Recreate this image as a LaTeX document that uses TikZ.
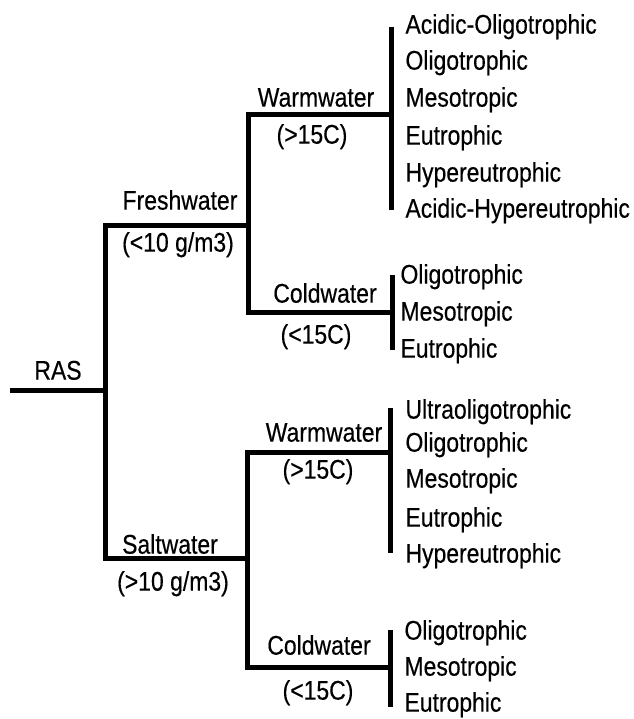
\documentclass[tikz,border=0pt]{standalone}
\usepackage{tikz}
\usepackage{fontspec}
\setmainfont{Liberation Sans}[FakeStretch=0.85,FakeBold=0.4]

\begin{document}
\begin{tikzpicture}[x=1pt,y=-1pt,line width=5pt,
  lbl/.style={font=\fontsize{27}{27}\selectfont,inner sep=0pt,text height=19.3pt,text depth=0pt},
  leaf/.style={lbl,anchor=west}]
\useasboundingbox (0,0) rectangle (633,719);
\coordinate (root) at (10,390);
\coordinate (rootj) at (105,390);
\coordinate (freshj) at (248,225);
\coordinate (saltj) at (247,558);
\coordinate (fwend) at (391,115);
\coordinate (fcend) at (392,312);
\coordinate (swend) at (390,452);
\coordinate (scend) at (390,667);
\coordinate (fwtop) at (391,27);
\coordinate (fwbot) at (391,210);
\coordinate (fctop) at (392,275);
\coordinate (fcbot) at (392,350);
\coordinate (swtop) at (390,408);
\coordinate (swbot) at (390,553);
\coordinate (sctop) at (390,630);
\coordinate (scbot) at (390,707);
\draw (root) -- (rootj);
\draw (freshj) -| (rootj) |- (saltj);
\draw (fwend) -| (freshj) |- (fcend);
\draw (swend) -| (saltj) |- (scend);
\draw (fwtop) -- (fwbot);
\draw (fctop) -- (fcbot);
\draw (swtop) -- (swbot);
\draw (sctop) -- (scbot);
\node[lbl] (ras) at (58,370) {RAS};
\node[lbl] (fresh) at (180,200) {Freshwater};
\node[lbl] (freshs) at (178,242) {(<10 g/m3)};
\node[lbl] (salt) at (170,544) {Saltwater};
\node[lbl] (salts) at (173,581) {(>10 g/m3)};
\node[lbl] (fw) at (316,97) {Warmwater};
\node[lbl] (fwt) at (312,134) {(>15C)};
\node[lbl] (fc) at (325,293) {Coldwater};
\node[lbl] (fct) at (316,334) {(<15C)};
\node[lbl] (sw) at (324,432) {Warmwater};
\node[lbl] (swt) at (318,469) {(>15C)};
\node[lbl] (sc) at (319,645) {Coldwater};
\node[lbl] (sct) at (318,690) {(<15C)};
\node[leaf] (fw1) at (403,24) {Acidic-Oligotrophic};
\node[leaf] (fw2) at (403,60) {Oligotrophic};
\node[leaf] (fw3) at (403,97) {Mesotropic};
\node[leaf] (fw4) at (403,135) {Eutrophic};
\node[leaf] (fw5) at (403,172) {Hypereutrophic};
\node[leaf] (fw6) at (403,208) {Acidic-Hypereutrophic};
\node[leaf] (fc1) at (398,274) {Oligotrophic};
\node[leaf] (fc2) at (398,311) {Mesotropic};
\node[leaf] (fc3) at (398,348) {Eutrophic};
\node[leaf] (sw1) at (403,409) {Ultraoligotrophic};
\node[leaf] (sw2) at (403,442) {Oligotrophic};
\node[leaf] (sw3) at (403,478) {Mesotropic};
\node[leaf] (sw4) at (403,517) {Eutrophic};
\node[leaf] (sw5) at (403,553) {Hypereutrophic};
\node[leaf] (sc1) at (402,630) {Oligotrophic};
\node[leaf] (sc2) at (402,666) {Mesotropic};
\node[leaf] (sc3) at (402,702) {Eutrophic};
\end{tikzpicture}
\end{document}
